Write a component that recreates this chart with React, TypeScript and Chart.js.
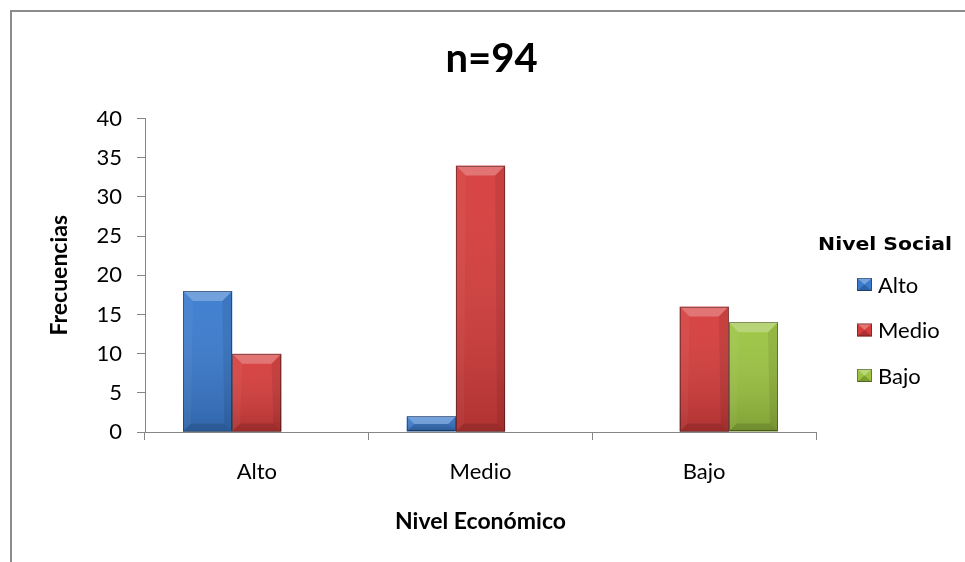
import React, { useEffect, useRef } from 'react';
import { Chart, registerables } from 'chart.js';

Chart.register(...registerables);

// ---- data ----
const categories = ['Alto', 'Medio', 'Bajo'];
const seriesNames = ['Alto', 'Medio', 'Bajo'];
const altoValues = [18, 2, 0];
const medioValues = [10, 34, 16];
const bajoValues = [0, 0, 14];
const seriesColors = ['#3a7bcf', '#d63d3c', '#9cc441'];
const yMin = 0;
const yMax = 40;
const yStep = 5;
const chartTitle = 'n=94';
const xTitle = 'Nivel Económico';
const yTitle = 'Frecuencias';
const legendTitle = 'Nivel Social';

const W = 965;
const H = 562;

const framePlugin = {
  id: 'frame',
  beforeDraw(chart: any) {
    const ctx = chart.ctx;
    ctx.save();
    ctx.fillStyle = '#ffffff';
    ctx.fillRect(0, 0, chart.width, chart.height);
    ctx.fillStyle = '#8c8c8c';
    ctx.fillRect(10, 10, 2, chart.height - 10);
    ctx.fillRect(10, 10, chart.width - 10, 2);
    ctx.restore();
  },
};

const bevelPlugin = {
  id: 'bevel',
  afterDatasetsDraw(chart: any) {
    const ctx = chart.ctx;
    ctx.save();
    chart.data.datasets.forEach((_ds: any, di: number) => {
      const meta = chart.getDatasetMeta(di);
      meta.data.forEach((el: any) => {
        const { x, y, base, width } = el.getProps(['x', 'y', 'base', 'width'], true);
        const top = Math.min(y, base);
        const bottom = Math.max(y, base);
        const h = bottom - top;
        if (h < 1) return;
        const left = x - width / 2;
        const right = x + width / 2;
        const g = ctx.createLinearGradient(0, top, 0, bottom);
        g.addColorStop(0, 'rgba(255,255,255,0.04)');
        g.addColorStop(1, 'rgba(0,0,0,0.18)');
        ctx.fillStyle = g;
        ctx.fillRect(left, top, width, h);
        const b = Math.min(10, h / 2);
        const bb = Math.min(8, h / 2);
        ctx.fillStyle = 'rgba(255,255,255,0.26)';
        ctx.beginPath();
        ctx.moveTo(left, top);
        ctx.lineTo(right, top);
        ctx.lineTo(right - b, top + b);
        ctx.lineTo(left + b, top + b);
        ctx.closePath();
        ctx.fill();
        ctx.fillStyle = 'rgba(0,0,0,0.12)';
        ctx.beginPath();
        ctx.moveTo(left, bottom);
        ctx.lineTo(right, bottom);
        ctx.lineTo(right - bb, bottom - bb);
        ctx.lineTo(left + bb, bottom - bb);
        ctx.closePath();
        ctx.fill();
        ctx.fillStyle = 'rgba(255,255,255,0.04)';
        ctx.beginPath();
        ctx.moveTo(left, top);
        ctx.lineTo(left + b, top + b);
        ctx.lineTo(left + bb, bottom - bb);
        ctx.lineTo(left, bottom);
        ctx.closePath();
        ctx.fill();
        ctx.fillStyle = 'rgba(0,0,0,0.08)';
        ctx.beginPath();
        ctx.moveTo(right, top);
        ctx.lineTo(right - b, top + b);
        ctx.lineTo(right - bb, bottom - bb);
        ctx.lineTo(right, bottom);
        ctx.closePath();
        ctx.fill();
        ctx.strokeStyle = 'rgba(0,0,0,0.35)';
        ctx.lineWidth = 1;
        ctx.strokeRect(Math.round(left) + 0.5, Math.round(top) + 0.5, Math.round(width) - 1, Math.round(h) - 1);
      });
    });
    ctx.restore();
  },
};

const legendPlugin = {
  id: 'sideLegend',
  afterDraw(chart: any) {
    const ctx = chart.ctx;
    const area = chart.chartArea;
    const x0 = area.right;
    ctx.save();
    ctx.fillStyle = '#000000';
    ctx.font = 'bold 17px "DejaVu Sans"';
    ctx.textAlign = 'center';
    ctx.textBaseline = 'middle';
    ctx.save();
    ctx.translate(x0 + 69, 246);
    ctx.scale(1.2, 1);
    ctx.fillText(legendTitle, 0, 0);
    ctx.restore();
    ctx.font = '22px Lato';
    ctx.textAlign = 'left';
    chart.data.datasets.forEach((ds: any, i: number) => {
      const cy = 284.5 + i * 45.5;
      const bx = x0 + 41;
      const bw = 15;
      const bh = 13;
      const by = cy - bh / 2;
      ctx.fillStyle = ds.backgroundColor;
      ctx.fillRect(bx, by, bw, bh);
      ctx.fillStyle = 'rgba(255,255,255,0.3)';
      ctx.beginPath();
      ctx.moveTo(bx, by);
      ctx.lineTo(bx + bw, by);
      ctx.lineTo(bx + bw / 2, by + bh / 2);
      ctx.closePath();
      ctx.fill();
      ctx.fillStyle = 'rgba(0,0,0,0.2)';
      ctx.beginPath();
      ctx.moveTo(bx, by + bh);
      ctx.lineTo(bx + bw, by + bh);
      ctx.lineTo(bx + bw / 2, by + bh / 2);
      ctx.closePath();
      ctx.fill();
      ctx.strokeStyle = 'rgba(0,0,0,0.35)';
      ctx.lineWidth = 1;
      ctx.strokeRect(bx + 0.5, by + 0.5, bw - 1, bh - 1);
      ctx.fillStyle = '#000000';
      ctx.fillText(ds.label, x0 + 62, cy + 1);
    });
    ctx.restore();
  },
};

export default function App() {
  const canvasRef = useRef<HTMLCanvasElement | null>(null);

  useEffect(() => {
    const canvas = canvasRef.current;
    if (!canvas) return;
    const axisColor = '#868686';
    const chart = new Chart(canvas, {
      type: 'bar',
      data: {
        labels: categories,
        datasets: [
          { label: seriesNames[0], data: altoValues, backgroundColor: seriesColors[0], borderWidth: 0 },
          { label: seriesNames[1], data: medioValues, backgroundColor: seriesColors[1], borderWidth: 0 },
          { label: seriesNames[2], data: bajoValues, backgroundColor: seriesColors[2], borderWidth: 0 },
        ],
      },
      options: {
        responsive: false,
        animation: false,
        devicePixelRatio: 1,
        layout: { padding: { left: 18, right: 0, top: 0, bottom: 0 } },
        datasets: { bar: { categoryPercentage: 0.66, barPercentage: 1 } },
        plugins: {
          legend: { display: false },
          tooltip: { enabled: false },
          title: {
            display: true,
            text: chartTitle,
            color: '#000000',
            font: { family: 'Lato', size: 40, weight: 'bold', lineHeight: 1.2 },
            padding: { top: 35, bottom: 35.5 },
          },
        },
        scales: {
          x: {
            grid: {
              display: true,
              drawOnChartArea: false,
              drawTicks: true,
              tickLength: 8,
              color: axisColor,
              offset: true,
            },
            border: { display: true, color: axisColor, width: 1 },
            ticks: { color: '#000000', font: { family: 'Lato', size: 22 }, padding: 19 },
            title: {
              display: true,
              text: xTitle,
              color: '#000000',
              font: { family: 'Lato', size: 23, weight: 'bold', lineHeight: 1.2 },
              padding: { top: 0, bottom: 27 },
            },
            afterFit: (s: any) => {
              s.height = 130;
            },
          },
          y: {
            min: yMin,
            max: yMax,
            grid: {
              display: true,
              drawOnChartArea: false,
              drawTicks: true,
              tickLength: 8,
              color: axisColor,
            },
            border: { display: true, color: axisColor, width: 1 },
            ticks: {
              stepSize: yStep,
              color: '#000000',
              font: { family: 'Lato', size: 22 },
              padding: 15,
            },
            title: {
              display: true,
              text: yTitle,
              color: '#000000',
              font: { family: 'Lato', size: 23, weight: 'bold', lineHeight: 1.2 },
              padding: { top: 28, bottom: 0 },
            },
            afterFit: (s: any) => {
              s.width = 127;
            },
          },
          legendSpace: {
            type: 'linear',
            position: 'right',
            display: true,
            grid: { display: false },
            border: { display: false },
            ticks: { display: false },
            afterFit: (s: any) => {
              s.width = 149;
            },
          },
        },
      } as any,
      plugins: [framePlugin, bevelPlugin, legendPlugin],
    });
    return () => {
      chart.destroy();
    };
  }, []);

  return (
    <div style={{ position: 'absolute', left: 0, top: 0, width: W, height: H, background: '#ffffff' }}>
      <canvas ref={canvasRef} width={W} height={H} style={{ display: 'block', width: W, height: H }} />
    </div>
  );
}
